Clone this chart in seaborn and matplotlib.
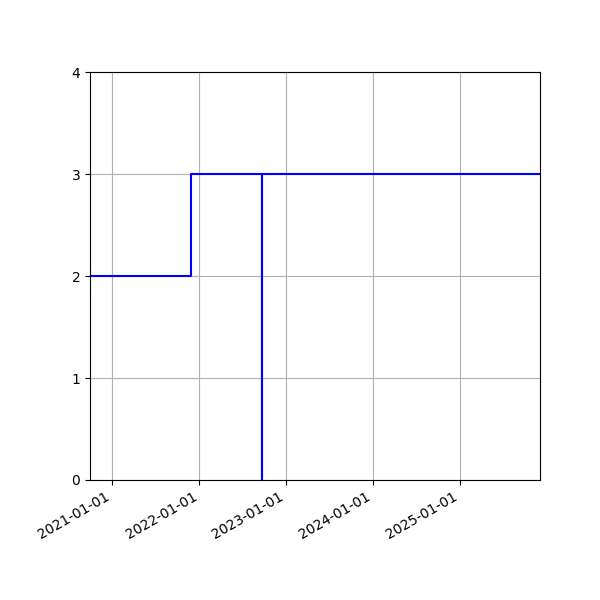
import pandas as pd
import matplotlib
matplotlib.use("Agg")
import matplotlib.pyplot as plt
import matplotlib.dates as mdates
import seaborn as sns

# valores (degraus)
datas = ["2020-09-29", "2021-11-27", "2022-09-21", "2022-09-21", "2025-12-02"]
valores = [2, 3, 0, 3, 3]

df = pd.DataFrame({"data": pd.to_datetime(datas), "valor": valores})

fig, ax = plt.subplots(figsize=(6, 6), dpi=100)
sns.lineplot(
    data=df, x="data", y="valor", ax=ax,
    estimator=None, sort=False,
    drawstyle="steps-post", color="blue", linewidth=1.5,
)
ax.set_xlim(df["data"].min(), df["data"].max())
ax.set_ylim(0, 4)
ax.set_yticks([0, 1, 2, 3, 4])
ax.xaxis.set_major_locator(mdates.YearLocator())
ax.xaxis.set_major_formatter(mdates.DateFormatter("%Y-%m-%d"))
ax.set_xlabel("")
ax.set_ylabel("")
ax.grid(True)
fig.autofmt_xdate()
fig.subplots_adjust(left=0.15, right=0.9, top=0.88, bottom=0.2)
fig.savefig("out.png", dpi=100)
